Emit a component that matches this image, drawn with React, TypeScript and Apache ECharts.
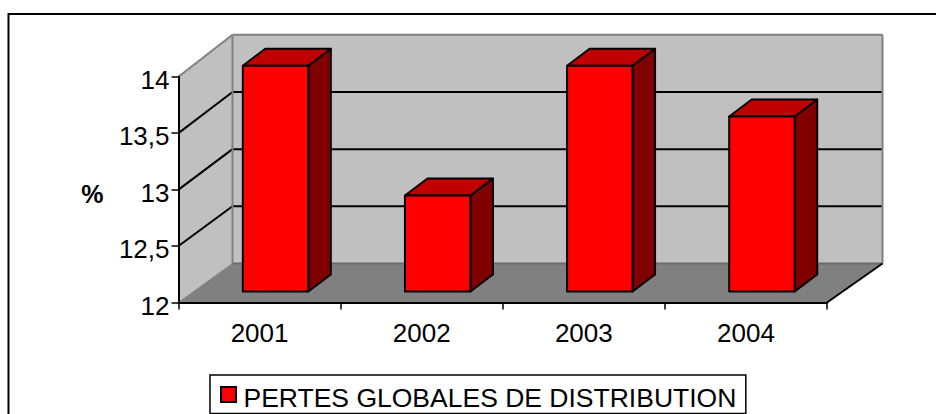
import React, { useEffect, useRef } from "react";
import * as echarts from "echarts";

const categories = ["2001", "2002", "2003", "2004"];
const seriesName = "PERTES GLOBALES DE DISTRIBUTION";
const lossValues = [14, 12.85, 14, 13.55];
const yGridValues = [12.5, 13, 13.5];
const yMin = 12;
const yMax = 14;

const FONT = '"Liberation Sans", Arial, sans-serif';
const WALL = "#c0c0c0";
const FLOOR = "#808080";
const EDGE = "#808080";
const DX = 54;
const DX_RIGHT = 55.5;
const DY_FLOOR = -39;
const BACK_RATIO = 1.013;

function renderWalls(params: any, api: any) {
  const cs = params.coordSys;
  const l = cs.x;
  const r = cs.x + cs.width;
  const t = cs.y;
  const b = cs.y + cs.height;
  const back = (y: number) => b + DY_FLOOR + (y - b) * BACK_RATIO;
  const bl = l + DX;
  const br = r + DX_RIGHT;
  const poly = (points: number[][], fill: string) => ({
    type: "polygon",
    shape: { points },
    style: { fill, stroke: "none" },
  });
  const line = (x1: number, y1: number, x2: number, y2: number, stroke: string, lineWidth = 2) => ({
    type: "line",
    shape: { x1, y1, x2, y2 },
    style: { stroke, lineWidth, fill: "none" },
  });
  const children: any[] = [
    poly([[bl, back(t)], [br, back(t)], [br, back(b)], [bl, back(b)]], WALL),
    poly([[l, t], [bl, back(t)], [bl, back(b)], [l, b]], WALL),
    poly([[l, b], [bl, back(b)], [br, back(b)], [r, b]], FLOOR),
  ];
  yGridValues.forEach((v) => {
    const y = api.coord([0, v])[1];
    children.push(line(l, y, bl, back(y), "#000"));
    children.push(line(bl, back(y), br, back(y), "#000"));
  });
  children.push(line(l, t, bl, back(t), EDGE));
  children.push(line(bl, back(t), br, back(t), EDGE));
  children.push(line(bl, back(t), bl, back(b), EDGE));
  children.push(line(br, back(t), br, back(b), EDGE));
  children.push(line(bl, back(b), br, back(b), "#6a6a6a"));
  children.push(line(l, b, bl, back(b), EDGE, 1));
  children.push(line(r, b, br, back(b), "#000"));
  return { type: "group", children };
}

function renderBar(_params: any, api: any) {
  const base = api.coord([api.value(0), yMin]);
  const top = api.coord([api.value(0), api.value(1)]);
  const width = 65.5;
  const x0 = base[0] + 16 - width / 2;
  const x1 = x0 + width;
  const yb = base[1] - 11;
  const yt = top[1] - 11;
  const dx = 22.5;
  const dy = -17;
  const s = { stroke: "#000", lineWidth: 2, lineJoin: "round" };
  return {
    type: "group",
    children: [
      { type: "polygon", shape: { points: [[x1, yt], [x1 + dx, yt + dy], [x1 + dx, yb + dy], [x1, yb]] }, style: { ...s, fill: "#800000" } },
      { type: "polygon", shape: { points: [[x0, yt], [x0 + dx, yt + dy], [x1 + dx, yt + dy], [x1, yt]] }, style: { ...s, fill: "#c00000" } },
      { type: "rect", shape: { x: x0, y: yt, width, height: yb - yt }, style: { ...s, fill: "#ff0000" } },
    ],
  };
}

export default function App() {
  const ref = useRef<HTMLDivElement>(null);
  useEffect(() => {
    const chart = echarts.init(ref.current!, undefined, { renderer: "svg" });
    chart.setOption({
      animation: false,
      backgroundColor: "#fff",
      textStyle: { fontFamily: FONT },
      grid: { left: 178.5, right: 109, top: 76.7, bottom: 111.5, containLabel: false },
      graphic: [
        {
          type: "polyline",
          shape: { points: [[8.5, 414], [8.5, 14], [936, 14]] },
          style: { stroke: "#000", lineWidth: 2, fill: "none" },
          z: 10,
        },
      ],
      legend: {
        data: [seriesName],
        left: 210,
        top: 375,
        padding: [9.5, 9.5, 2, 10],
        borderColor: "#000",
        borderWidth: 1.5,
        backgroundColor: "#fff",
        itemWidth: 15,
        itemHeight: 15,
        itemGap: 0,
        selectedMode: false,
        icon: "rect",
        formatter: "{a|{name}}",
        textStyle: {
          fontFamily: FONT,
          fontSize: 26.5,
          color: "#000",
          rich: { a: { fontFamily: FONT, fontSize: 26.5, color: "#000", padding: [7, 0, 0, 2.5] } },
        },
      },
      xAxis: {
        type: "category",
        data: categories,
        boundaryGap: true,
        z: 5,
        axisLine: { lineStyle: { color: "#000", width: 2 } },
        axisTick: { show: true, alignWithLabel: false, length: 7, lineStyle: { color: "#000", width: 1.5 } },
        axisLabel: { color: "#000", fontSize: 26, margin: 17, fontFamily: FONT },
        splitLine: { show: false },
      },
      yAxis: {
        type: "value",
        min: yMin,
        max: yMax,
        interval: 0.5,
        z: 5,
        name: "{a|%}",
        nameLocation: "middle",
        nameRotate: 0,
        nameGap: 75,
        nameTextStyle: {
          color: "#000",
          fontSize: 25,
          fontWeight: "bold",
          fontFamily: FONT,
          rich: { a: { color: "#000", fontSize: 25, fontWeight: "bold", fontFamily: FONT, padding: [9, 0, 0, 0] } },
        },
        axisLine: { show: true, lineStyle: { color: "#000", width: 2 } },
        axisTick: { show: true, length: 7, lineStyle: { color: "#000", width: 1.5 } },
        axisLabel: {
          color: "#000",
          fontSize: 26,
          margin: 9,
          fontFamily: FONT,
          formatter: (v: number) => `{a|${String(v).replace(".", ",")}}`,
          rich: { a: { color: "#000", fontSize: 26, fontFamily: FONT, padding: [6, 0, 0, 0] } },
        },
        splitLine: { show: false },
      },
      series: [
        {
          type: "custom",
          name: "walls",
          renderItem: renderWalls,
          data: [[0, yMin]],
          encode: { x: 0, y: 1 },
          z: 1,
          silent: true,
        },
        {
          type: "custom",
          name: seriesName,
          renderItem: renderBar,
          data: categories.map((_c, i) => [i, lossValues[i]]),
          encode: { x: 0, y: 1 },
          itemStyle: { color: "#ff0000", borderColor: "#000", borderWidth: 1.5 },
          z: 2,
        },
      ],
    });
    return () => chart.dispose();
  }, []);
  return (
    <div
      ref={ref}
      style={{ position: "fixed", left: 0, top: 0, width: 936, height: 414 }}
    />
  );
}
